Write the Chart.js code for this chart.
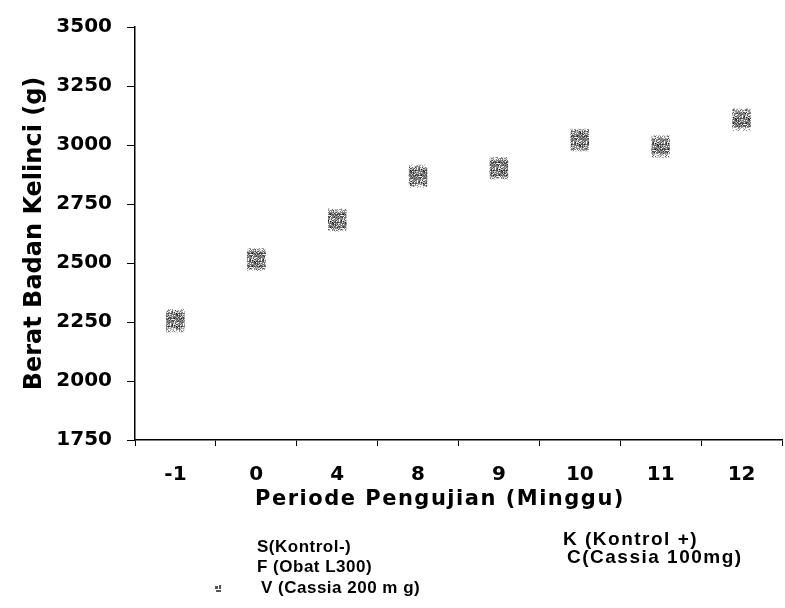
<!DOCTYPE html>
<html>
<head>
<meta charset="utf-8">
<script src="https://cdn.jsdelivr.net/npm/chart.js@4.4.1/dist/chart.umd.min.js"></script>
<style>
html,body{margin:0;padding:0;background:#fff;overflow:hidden;width:785px;height:608px;}
#wrap{position:absolute;left:0;top:0;width:795px;height:608px;}
</style>
</head>
<body>
<div id="wrap"><canvas id="c" width="795" height="608"></canvas></div>
<script>
// ---- data ----
const categories = ['-1', '0', '4', '8', '9', '10', '11', '12'];
const seriesNames = ['S(Kontrol-)', 'K (Kontrol +)', 'F (Obat L300)', 'C(Cassia 100mg)', 'V (Cassia 200 m g)'];
const sKontrolMin = [2245, 2505, 2672, 2858, 2893, 3012, 2985, 3098];
const kKontrolPlus = [2262, 2520, 2688, 2874, 2907, 3028, 2999, 3114];
const fObatL300 = [2250, 2515, 2682, 2870, 2902, 3022, 2994, 3108];
const cCassia100 = [2258, 2510, 2676, 2862, 2897, 3016, 2988, 3102];
const vCassia200 = [2266, 2524, 2692, 2878, 2911, 3030, 3002, 3116];
const yTicks = [1750, 2000, 2250, 2500, 2750, 3000, 3250, 3500];
const yTitle = 'Berat Badan Kelinci (g)';
const xTitle = 'Periode Pengujian (Minggu)';

// speckled pattern (styling only)
function makePattern(seed, alpha) {
  const pc = document.createElement('canvas');
  pc.width = 13; pc.height = 13;
  const p = pc.getContext('2d');
  let s = seed;
  const rnd = () => { s = (s * 9301 + 49297) % 233280; return s / 233280; };
  for (let y = 0; y < 13; y++) for (let x = 0; x < 13; x++) {
    const r = rnd();
    if (r < 0.22) { p.fillStyle = 'rgba(0,0,0,' + alpha + ')'; p.fillRect(x, y, 1, 1); }
    else if (r < 0.36) { p.fillStyle = 'rgba(110,110,110,' + (alpha * 0.6) + ')'; p.fillRect(x, y, 1, 1); }
  }
  return document.getElementById('c').getContext('2d').createPattern(pc, 'repeat');
}

const seriesData = [sKontrolMin, kKontrolPlus, fObatL300, cCassia100, vCassia200];
const datasets = seriesData.map((d, i) => ({
  label: seriesNames[i],
  data: d,
  showLine: false,
  pointStyle: 'rect',
  pointRadius: 13,
  pointHoverRadius: 13,
  borderWidth: 0,
  backgroundColor: makePattern(17 + i * 31, 0.45),
  borderColor: 'rgba(0,0,0,0)'
}));

const FONT_NUM = '"DejaVu Sans", sans-serif';
const FONT_LEG = '"Liberation Sans", Arial, sans-serif';

const overlay = {
  id: 'overlay',
  afterDraw(chart) {
    const ctx = chart.ctx;
    ctx.save();
    ctx.fillStyle = '#000';
    // x title
    ctx.font = 'bold 21px ' + FONT_NUM;
    ctx.letterSpacing = '1.5px';
    ctx.textAlign = 'center';
    ctx.textBaseline = 'middle';
    ctx.fillText(xTitle, 440, 500);
    // legend, left column
    ctx.font = 'bold 17px ' + FONT_LEG;
    ctx.letterSpacing = '0.5px';
    ctx.textAlign = 'left';
    ctx.fillText(seriesNames[0], 257, 547);
    ctx.fillText(seriesNames[2], 257, 567);
    ctx.fillText(seriesNames[4], 261, 588);
    // legend, right column
    ctx.font = 'bold 19px ' + FONT_LEG;
    ctx.letterSpacing = '1.5px';
    ctx.fillText(seriesNames[1], 563, 540);
    ctx.fillText(seriesNames[3], 567, 558);
    ctx.letterSpacing = '0px';
    // V marker sample
    ctx.fillStyle = '#555';
    ctx.fillRect(215, 586, 3, 3);
    ctx.fillRect(219, 585, 2, 4);
    ctx.fillRect(216, 590, 5, 2);
    ctx.restore();
  }
};

new Chart(document.getElementById('c'), {
  type: 'line',
  data: { labels: categories, datasets },
  plugins: [overlay],
  options: {
    responsive: false,
    animation: false,
    layout: { padding: { top: 24, right: 0, bottom: 108, left: 0 } },
    plugins: { legend: { display: false }, tooltip: { enabled: false } },
    scales: {
      x: {
        type: 'category',
        offset: true,
        afterFit: s => { s.height = 60; },
        grid: { display: true, drawOnChartArea: false, tickLength: 6, color: '#000', lineWidth: 1, offset: true },
        border: { display: true, color: '#000', width: 1.5 },
        ticks: { color: '#000', font: { family: FONT_NUM, size: 20, weight: 'bold' }, padding: 17, maxRotation: 0 }
      },
      y: {
        min: 1750, max: 3500,
        afterFit: s => { s.width = 135; },
        afterBuildTicks: s => { s.ticks = yTicks.map(v => ({ value: v })); },
        grid: { display: true, drawOnChartArea: false, tickLength: 8, color: '#000', lineWidth: 1 },
        border: { display: true, color: '#000', width: 1.5 },
        ticks: { color: '#000', font: { family: FONT_NUM, size: 20, weight: 'bold' }, padding: 15, callback: v => String(v) },
        title: { display: true, text: yTitle, color: '#000', font: { family: FONT_NUM, size: 24, weight: 'bold' }, padding: { top: 20, bottom: 0 } }
      }
    }
  }
});
</script>
</body>
</html>
